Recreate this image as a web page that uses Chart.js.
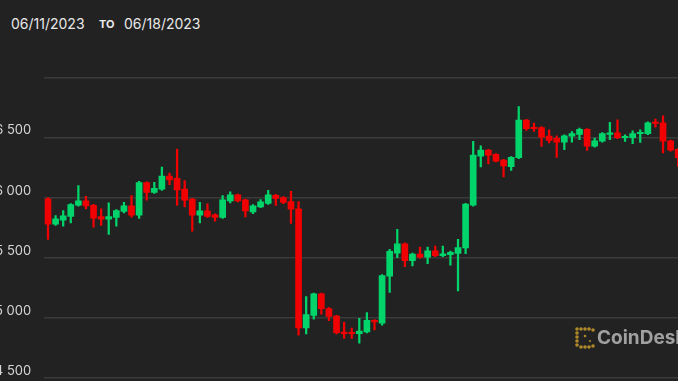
<!DOCTYPE html>
<html>
<head>
<meta charset="utf-8">
<script src="https://cdn.jsdelivr.net/npm/chart.js@4.4.0/dist/chart.umd.min.js"></script>
<style>
  html, body { margin:0; padding:0; background:#222222; overflow:hidden; width:678px; height:381px; }
  #wrap { position:absolute; left:-20px; top:0; width:702px; height:399px; }
  .hdr { position:absolute; font-family: Inter, "Liberation Sans", sans-serif; color:#e8e8e8; white-space:nowrap; }
  #d1 { left:11px; top:15px; font-size:14px; }
  #to { left:99px; top:17px; font-size:11px; font-weight:700; }
  #d2 { left:124px; top:15px; font-size:14px; }
  #logo { position:absolute; left:575px; top:327px; }
  #brand { position:absolute; left:597px; top:326px; font-family: Inter, "Liberation Sans", sans-serif; font-size:19px; font-weight:700; color:#a0a0a0; white-space:nowrap; }
</style>
</head>
<body>
<div class="hdr" id="d1">06/11/2023</div>
<div class="hdr" id="to">TO</div>
<div class="hdr" id="d2">06/18/2023</div>
<div id="wrap"><canvas id="c" width="702" height="399"></canvas></div>
<svg id="logo" width="20" height="22" viewBox="0 0 20 22">
  <g fill="#b08a2a">
    <circle cx="2" cy="2" r="1.8"/><circle cx="6" cy="2" r="1.8"/><circle cx="10" cy="2" r="1.8"/><circle cx="14" cy="2" r="1.8"/><circle cx="18" cy="3" r="1.8"/>
    <circle cx="2" cy="6" r="1.8"/><circle cx="2" cy="10" r="1.8"/><circle cx="2" cy="14" r="1.8"/><circle cx="2" cy="18" r="1.8"/>
    <circle cx="6" cy="20" r="1.8"/><circle cx="10" cy="20" r="1.8"/><circle cx="14" cy="20" r="1.8"/><circle cx="18" cy="19" r="1.8"/>
    <circle cx="10" cy="9" r="1.3"/><circle cx="15" cy="14" r="1.1"/>
  </g>
</svg>
<div id="brand">CoinDesk</div>
<script>
// 2h candles, BTC/USD, 06/11 -> 06/18
var opens  = [25993,25777,25810,25841,25935,25976,25940,25846,25819,25833,25882,25935,25852,26128,26040,26067,26183,26164,26073,25990,
              25852,25893,25860,25833,25970,26026,25984,25879,25921,25949,26023,26003,25970,25910,24914,25018,25204,25082,25018,24886,
              24881,24867,24881,24983,24955,25344,25537,25620,25474,25535,25502,25562,25515,25523,25535,25579,25935,26343,26398,26363,
              26315,26255,26329,26647,26586,26586,26514,26495,26459,26508,26522,26570,26425,26467,26522,26541,26495,26495,26528,26528,
              26628,26625,26475,26404];
var highs  = [26001,25852,25893,25950,26100,26012,25945,25907,25957,25900,25962,26017,26136,26132,26128,26255,26205,26404,26142,25995,
              25962,25949,25865,26017,26048,26030,25988,25943,25984,26061,26027,26008,26053,25968,25179,25208,25208,25086,25022,24964,
              24916,24997,25046,24988,25360,25570,25736,25625,25540,25589,25589,25598,25598,25556,25653,25953,26467,26431,26402,26367,
              26319,26342,26757,26651,26619,26590,26564,26514,26521,26550,26578,26574,26495,26540,26625,26647,26522,26555,26564,26629,
              26652,26680,26479,26408];
var lows   = [25653,25769,25764,25791,25929,25907,25755,25769,25695,25763,25874,25838,25827,25979,26035,26061,26108,25937,25924,25722,
              25791,25836,25805,25828,25957,25965,25841,25868,25916,25944,25935,25950,25786,24858,24867,24991,25032,24977,24867,24831,
              24831,24792,24876,24902,24941,25212,25502,25427,25432,25498,25452,25510,25510,25440,25225,25535,25930,26255,26280,26296,
              26172,26227,26324,26558,26550,26425,26454,26334,26398,26462,26481,26392,26420,26462,26481,26490,26467,26448,26459,26523,
              26586,26371,26387,26260];
var closes = [25777,25827,25852,25945,25976,25929,25827,25819,25846,25896,25935,25852,26128,26040,26081,26183,26144,26061,25976,25852,
              25893,25841,25833,25984,26026,25970,25888,25935,25968,26026,25990,25957,25901,24914,25032,25204,25074,25010,24875,24867,
              24867,24894,24983,24964,25355,25556,25620,25474,25535,25502,25562,25515,25537,25548,25589,25949,26357,26398,26351,26301,
              26260,26338,26647,26570,26570,26500,26473,26459,26517,26536,26570,26425,26475,26536,26541,26495,26508,26536,26541,26625,
              26614,26467,26392,26329];
var yTicks = [24500, 25000, 25500, 26000, 26500, 27000];

var GREEN = '#00d46a';
var RED = '#f00000';

// category labels: one per 2h candle
var labels = [];
for (var i = 0; i < opens.length; i++) {
  var h = 2 * i;
  labels.push('06/' + (11 + Math.floor(h / 24)) + ' ' + String(h % 24).padStart(2, '0') + ':00');
}

var colors = opens.map(function(o, i) { return closes[i] >= o ? GREEN : RED; });

function fmt(v) {
  return String(v).replace(/\B(?=(\d{3})+(?!\d))/g, ' ');
}

new Chart(document.getElementById('c'), {
  type: 'bar',
  data: {
    labels: labels,
    datasets: [
      {
        // bodies
        data: opens.map(function(o, i) { return [o, closes[i]]; }),
        backgroundColor: colors,
        barPercentage: 0.88,
        categoryPercentage: 1,
        grouped: false,
        minBarLength: 2
      },
      {
        // wicks
        data: lows.map(function(l, i) { return [l, highs[i]]; }),
        backgroundColor: colors,
        barThickness: 1.6,
        grouped: false
      }
    ]
  },
  options: {
    responsive: false,
    devicePixelRatio: 1,
    animation: false,
    layout: { padding: { top: 77.3, bottom: 1.7, left: 0, right: 0 } },
    plugins: { legend: { display: false }, tooltip: { enabled: false } },
    scales: {
      x: { display: false, offset: true },
      y: {
        min: 24500,
        max: 27000,
        afterFit: function(s) { s.width = 64.2; },
        afterBuildTicks: function(s) { s.ticks = yTicks.map(function(v) { return { value: v }; }); },
        border: { display: false },
        grid: { color: '#3a3a3a', lineWidth: 1.5, drawTicks: false },
        ticks: {
          padding: 13,
          labelOffset: -7,
          color: '#d6d6d6',
          font: { family: 'Inter', size: 13 },
          callback: function(v) { return v >= 27000 ? '' : fmt(v); }
        }
      }
    }
  }
});
</script>
</body>
</html>
